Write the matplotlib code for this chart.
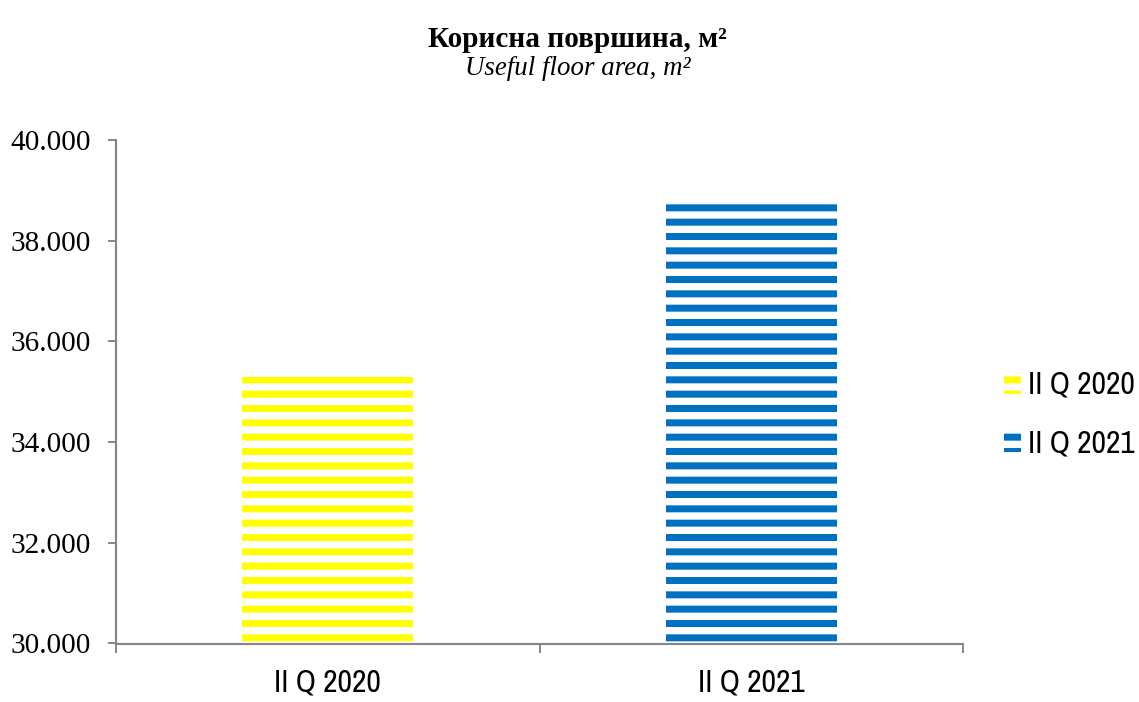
import matplotlib
matplotlib.use("Agg")
import matplotlib.pyplot as plt
from matplotlib.ticker import FuncFormatter

categories = ["II Q 2020", "II Q 2021"]
values = [35290, 38760]
colors = ["#FFFF00", "#0070C0"]
yticks = [30000, 32000, 34000, 36000, 38000, 40000]

DPI = 86
plt.rcParams["hatch.linewidth"] = 7 * 72 / DPI
narrow = ["Archivo Narrow", "Liberation Sans", "DejaVu Sans"]
serif = ["Liberation Serif", "DejaVu Serif"]

fig = plt.figure(figsize=(1139 / DPI, 702 / DPI), dpi=DPI)
ax = fig.add_axes([116 / 1139, 1 - 643.5 / 702, (963 - 116) / 1139, (643.5 - 140) / 702])

x = range(len(categories))
for i, (cat, val, col) in enumerate(zip(categories, values, colors)):
    ax.bar(i, val - 30000, bottom=30000, width=0.404, facecolor="none",
           edgecolor=col, linewidth=0, hatch="-", label=cat)

ax.set_xlim(-0.5, 1.5)
ax.set_ylim(30000, 40000)
ax.set_yticks(yticks)
ax.yaxis.set_major_formatter(FuncFormatter(lambda v, p: f"{int(v):,}".replace(",", ".")))

ax.set_xticks([-0.5, 0.5, 1.5])
ax.set_xticklabels([])
ax.set_xticks(list(x), minor=True)
ax.set_xticklabels(categories, minor=True, family=narrow, fontsize=26.5)
ax.tick_params(axis="x", which="minor", length=0, pad=21)
ax.tick_params(axis="x", which="major", length=7.5, width=1.6, color="#868686", direction="out")
ax.tick_params(axis="y", length=6.7, width=1.6, color="#868686", direction="out", pad=14)
for lab in ax.get_yticklabels():
    lab.set_family(serif)
    lab.set_fontsize(24.5)

for s in ["top", "right"]:
    ax.spines[s].set_visible(False)
for s in ["left", "bottom"]:
    ax.spines[s].set_color("#868686")
    ax.spines[s].set_linewidth(1.8)

fig.text(0.507, 1 - 47 / 702, "Корисна површина, м²", ha="center", va="baseline",
         family=serif, fontsize=24.5, fontweight="bold")
fig.text(0.507, 1 - 75 / 702, "Useful floor area, m²", ha="center", va="baseline",
         family=serif, fontsize=22.5, style="italic")

leg = fig.legend(loc="center left", bbox_to_anchor=(1004 / 1139, 1 - 414 / 702),
                 frameon=False, prop={"family": narrow, "size": 26.5},
                 handlelength=0.55, handleheight=0.72, handletextpad=0.2,
                 labelspacing=0.95, borderaxespad=0, borderpad=0)

fig.savefig("out.png", dpi=DPI)
